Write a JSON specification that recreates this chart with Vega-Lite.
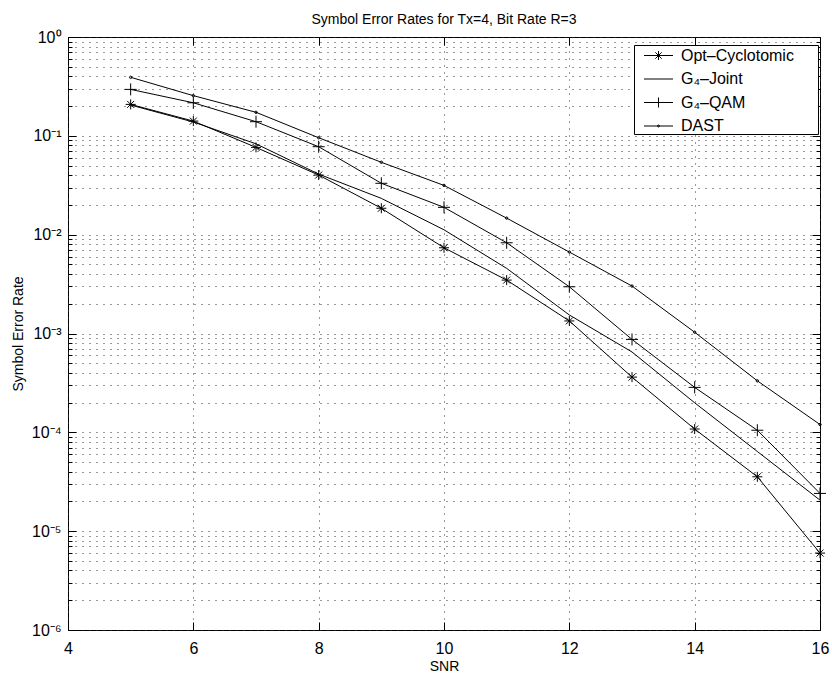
{
  "$schema": "https://vega.github.io/schema/vega-lite/v6.json",
  "width": 752,
  "height": 593,
  "autosize": "none",
  "padding": {"left": 68, "top": 37, "right": 12, "bottom": 47},
  "background": "white",
  "config": {
    "view": {"stroke": "black", "strokeWidth": 1},
    "font": "Liberation Sans",
    "axis": {"labelFont": "Liberation Sans", "titleFont": "Liberation Sans", "labelColor": "black", "titleColor": "black", "titleFontWeight": "normal", "domain": false, "tickColor": "black"}
  },
  "title": {"text": "Symbol Error Rates for Tx=4, Bit Rate R=3", "fontSize": 14, "fontWeight": "normal", "font": "Liberation Sans", "color": "black", "offset": 2, "anchor": "middle"},
  "data": {"values": [
    {"series": "Opt–Cyclotomic", "snr": 5, "ser": 0.208},
    {"series": "Opt–Cyclotomic", "snr": 6, "ser": 0.141},
    {"series": "Opt–Cyclotomic", "snr": 7, "ser": 0.0764},
    {"series": "Opt–Cyclotomic", "snr": 8, "ser": 0.0401},
    {"series": "Opt–Cyclotomic", "snr": 9, "ser": 0.0185},
    {"series": "Opt–Cyclotomic", "snr": 10, "ser": 0.00737},
    {"series": "Opt–Cyclotomic", "snr": 11, "ser": 0.00347},
    {"series": "Opt–Cyclotomic", "snr": 12, "ser": 0.00134},
    {"series": "Opt–Cyclotomic", "snr": 13, "ser": 0.000362},
    {"series": "Opt–Cyclotomic", "snr": 14, "ser": 0.000108},
    {"series": "Opt–Cyclotomic", "snr": 15, "ser": 0.0000355},
    {"series": "Opt–Cyclotomic", "snr": 16, "ser": 0.000006},
    {"series": "G₄–Joint", "snr": 5, "ser": 0.205},
    {"series": "G₄–Joint", "snr": 6, "ser": 0.138},
    {"series": "G₄–Joint", "snr": 7, "ser": 0.083},
    {"series": "G₄–Joint", "snr": 8, "ser": 0.041},
    {"series": "G₄–Joint", "snr": 9, "ser": 0.0233},
    {"series": "G₄–Joint", "snr": 10, "ser": 0.0112},
    {"series": "G₄–Joint", "snr": 11, "ser": 0.00456},
    {"series": "G₄–Joint", "snr": 12, "ser": 0.00154},
    {"series": "G₄–Joint", "snr": 13, "ser": 0.00065},
    {"series": "G₄–Joint", "snr": 14, "ser": 0.000199},
    {"series": "G₄–Joint", "snr": 15, "ser": 0.000064},
    {"series": "G₄–Joint", "snr": 16, "ser": 0.0000206},
    {"series": "G₄–QAM", "snr": 5, "ser": 0.295},
    {"series": "G₄–QAM", "snr": 6, "ser": 0.216},
    {"series": "G₄–QAM", "snr": 7, "ser": 0.139},
    {"series": "G₄–QAM", "snr": 8, "ser": 0.0776},
    {"series": "G₄–QAM", "snr": 9, "ser": 0.0331},
    {"series": "G₄–QAM", "snr": 10, "ser": 0.0189},
    {"series": "G₄–QAM", "snr": 11, "ser": 0.00828},
    {"series": "G₄–QAM", "snr": 12, "ser": 0.00297},
    {"series": "G₄–QAM", "snr": 13, "ser": 0.000871},
    {"series": "G₄–QAM", "snr": 14, "ser": 0.000285},
    {"series": "G₄–QAM", "snr": 15, "ser": 0.000105},
    {"series": "G₄–QAM", "snr": 16, "ser": 0.0000241},
    {"series": "DAST", "snr": 5, "ser": 0.391},
    {"series": "DAST", "snr": 6, "ser": 0.255},
    {"series": "DAST", "snr": 7, "ser": 0.173},
    {"series": "DAST", "snr": 8, "ser": 0.0957},
    {"series": "DAST", "snr": 9, "ser": 0.054},
    {"series": "DAST", "snr": 10, "ser": 0.0315},
    {"series": "DAST", "snr": 11, "ser": 0.0147},
    {"series": "DAST", "snr": 12, "ser": 0.00667},
    {"series": "DAST", "snr": 13, "ser": 0.00302},
    {"series": "DAST", "snr": 14, "ser": 0.00103},
    {"series": "DAST", "snr": 15, "ser": 0.000332},
    {"series": "DAST", "snr": 16, "ser": 0.00012}
  ]},
  "layer": [
    {
      "layer": [
        {
          "mark": {"type": "line", "color": "black", "strokeWidth": 1},
          "encoding": {
            "x": {"field": "snr", "type": "quantitative", "scale": {"domain": [4, 16], "nice": false, "zero": false},
              "axis": {"title": "SNR", "titleFontSize": 14, "titlePadding": 3, "labelFontSize": 16, "labelPadding": 18, "format": "d", "values": [4, 6, 8, 10, 12, 14, 16], "tickSize": -8, "grid": true, "gridDash": [1, 6], "gridColor": "#333", "labelFlush": false}},
            "y": {"field": "ser", "type": "quantitative", "scale": {"type": "log", "domain": [0.000001, 1], "nice": false},
              "axis": {"title": "Symbol Error Rate", "titleFontSize": 14, "titlePadding": 6, "labelFontSize": 16, "labelPadding": 15,
                "values": [0.000001, 0.000002, 0.000003, 0.000004, 0.000005, 0.000006, 0.000007, 0.000008, 0.000009,
                  0.00001, 0.00002, 0.00003, 0.00004, 0.00005, 0.00006, 0.00007, 0.00008, 0.00009,
                  0.0001, 0.0002, 0.0003, 0.0004, 0.0005, 0.0006, 0.0007, 0.0008, 0.0009,
                  0.001, 0.002, 0.003, 0.004, 0.005, 0.006, 0.007, 0.008, 0.009,
                  0.01, 0.02, 0.03, 0.04, 0.05, 0.06, 0.07, 0.08, 0.09,
                  0.1, 0.2, 0.3, 0.4, 0.5, 0.6, 0.7, 0.8, 0.9, 1],
                "labelExpr": "abs(log(datum.value)/LN10 - round(log(datum.value)/LN10)) < 0.000001 ? '10' + ['⁰','⁻¹','⁻²','⁻³','⁻⁴','⁻⁵','⁻⁶'][-round(log(datum.value)/LN10)] : ''",
                "tickSize": {"condition": {"test": "abs(log(datum.value)/LN10 - round(log(datum.value)/LN10)) < 0.000001", "value": -8}, "value": -4},
                "grid": true, "gridDash": [1, 6], "gridColor": "#333", "labelFlush": false}},
            "detail": {"field": "series"}
          }
        },
        {
          "mark": {"type": "point", "filled": false, "color": "black", "strokeWidth": 1, "size": 100, "opacity": 1},
          "encoding": {
            "x": {"field": "snr", "type": "quantitative"},
            "y": {"field": "ser", "type": "quantitative"},
            "shape": {"field": "series", "type": "nominal", "legend": null,
              "scale": {"domain": ["Opt–Cyclotomic", "G₄–Joint", "G₄–QAM", "DAST"],
                "range": ["M-1,0L1,0M0,-1L0,1M-0.7,-0.7L0.7,0.7M-0.7,0.7L0.7,-0.7", "M0,0", "M-1.2,0L1.2,0M0,-1.2L0,1.2", "M-0.25,0A0.25,0.25 0 1,0 0.25,0A0.25,0.25 0 1,0 -0.25,0"]}}
          }
        },
        {
          "transform": [{"filter": "false"}],
          "mark": {"type": "point", "filled": false, "color": "black", "strokeWidth": 1, "opacity": 1},
          "encoding": {
            "x": {"field": "snr", "type": "quantitative"},
            "y": {"field": "ser", "type": "quantitative"},
            "shape": {"field": "series", "type": "nominal",
              "scale": {"domain": ["Opt–Cyclotomic", "G₄–Joint", "G₄–QAM", "DAST"],
                "range": ["M-1.45,0L1.45,0M0,-0.45L0,0.45M-0.32,-0.32L0.32,0.32M-0.32,0.32L0.32,-0.32", "M-1.45,0L1.45,0", "M-1.45,0L1.45,0M0,-0.5L0,0.5", "M-1.45,0L1.45,0M-0.1,0A0.1,0.1 0 1,0 0.1,0A0.1,0.1 0 1,0 -0.1,0"]},
              "legend": {"title": null, "orient": "none", "legendX": 566, "legendY": 8, "strokeColor": "black", "fillColor": "white", "padding": 0,
                "labelFont": "Liberation Sans", "labelFontSize": 16, "labelColor": "black", "symbolSize": 400, "rowPadding": 4.5, "symbolOffset": 14, "labelOffset": 12,
                "labelExpr": "datum.label + '\u2800\u2800'",
                "symbolStrokeColor": "black", "symbolStrokeWidth": 1}}
          }
        }
      ],
      "resolve": {"scale": {"shape": "independent"}, "legend": {"shape": "independent"}}
    },
    {
      "mark": {"type": "line", "strokeOpacity": 0},
      "encoding": {
        "x": {"field": "snr", "type": "quantitative", "scale": {"domain": [4, 16], "nice": false, "zero": false},
          "axis": {"orient": "top", "title": null, "labels": false, "values": [4, 6, 8, 10, 12, 14, 16], "tickSize": -8, "grid": false}},
        "y": {"field": "ser", "type": "quantitative", "scale": {"type": "log", "domain": [0.000001, 1], "nice": false},
          "axis": {"orient": "right", "title": null, "labels": false, "grid": false,
            "values": [0.000001, 0.000002, 0.000003, 0.000004, 0.000005, 0.000006, 0.000007, 0.000008, 0.000009,
              0.00001, 0.00002, 0.00003, 0.00004, 0.00005, 0.00006, 0.00007, 0.00008, 0.00009,
              0.0001, 0.0002, 0.0003, 0.0004, 0.0005, 0.0006, 0.0007, 0.0008, 0.0009,
              0.001, 0.002, 0.003, 0.004, 0.005, 0.006, 0.007, 0.008, 0.009,
              0.01, 0.02, 0.03, 0.04, 0.05, 0.06, 0.07, 0.08, 0.09,
              0.1, 0.2, 0.3, 0.4, 0.5, 0.6, 0.7, 0.8, 0.9, 1],
            "tickSize": {"condition": {"test": "abs(log(datum.value)/LN10 - round(log(datum.value)/LN10)) < 0.000001", "value": -8}, "value": -4}}},
        "detail": {"field": "series"}
      }
    }
  ],
  "resolve": {"scale": {"x": "independent", "y": "independent"}}
}
